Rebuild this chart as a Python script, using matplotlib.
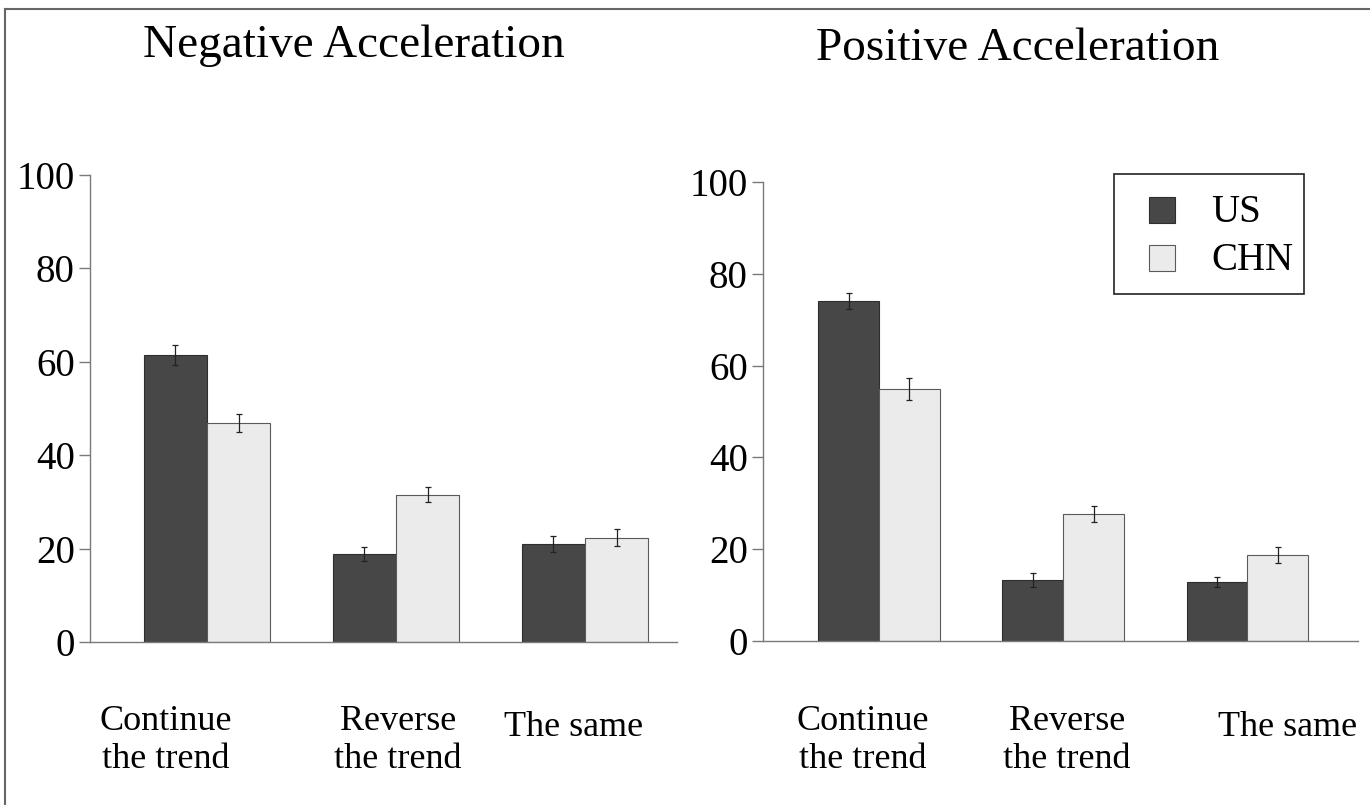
import numpy as np
import matplotlib
matplotlib.use("Agg")
import matplotlib.pyplot as plt
from matplotlib.lines import Line2D
from matplotlib.patches import Rectangle
from matplotlib.transforms import blended_transform_factory

plt.rcParams['font.family'] = ['Liberation Serif', 'DejaVu Serif']

# response categories and group means (percent) with error bars
categories = ["Continue\nthe trend", "Reverse\nthe trend", "The same"]
groups = ["US", "CHN"]

neg_us = [61.5, 18.8, 21.0]
neg_chn = [46.9, 31.5, 22.3]
neg_us_err = [2.1, 1.5, 1.7]
neg_chn_err = [1.9, 1.6, 1.8]

pos_us = [74.1, 13.3, 12.9]
pos_chn = [54.9, 27.7, 18.7]
pos_us_err = [1.7, 1.6, 1.1]
pos_chn_err = [2.4, 1.7, 1.8]

W, H = 1370, 805
fig = plt.figure(figsize=(W / 100, H / 100), dpi=100)

us_color = "#474747"
chn_color = "#ebebeb"
us_edge = "#2e2e2e"
chn_edge = "#5a5a5a"
axis_color = "#7a7a7a"


def px_axes(x0, x1, y0, y100):
    return fig.add_axes([x0 / W, 1 - y0 / H, (x1 - x0) / W, (y0 - y100) / H])


def draw_panel(ax, us, chn, us_err, chn_err, xlim, label_x, bar_w):
    x = np.arange(len(categories))
    ax.bar(x - bar_w / 2, us, bar_w, color=us_color, edgecolor=us_edge, linewidth=0.8)
    ax.bar(x + bar_w / 2, chn, bar_w, color=chn_color, edgecolor=chn_edge, linewidth=0.8)
    ax.errorbar(x - bar_w / 2, us, yerr=us_err, fmt="none", ecolor="#222222",
                elinewidth=0.9, capsize=2, capthick=0.9)
    ax.errorbar(x + bar_w / 2, chn, yerr=chn_err, fmt="none", ecolor="#222222",
                elinewidth=0.9, capsize=2, capthick=0.9)
    ax.set_xlim(*xlim)
    ax.set_ylim(0, 100)
    ax.set_yticks([0, 20, 40, 60, 80, 100])
    ax.tick_params(axis="y", direction="out", length=8, width=1, color=axis_color,
                   labelsize=28, pad=3)
    ax.set_xticks([])
    for s in ["top", "right"]:
        ax.spines[s].set_visible(False)
    for s in ["left", "bottom"]:
        ax.spines[s].set_color(axis_color)
        ax.spines[s].set_linewidth(1.0)

    trans = blended_transform_factory(ax.transData, fig.transFigure)
    for cx, lab in zip(label_x, categories):
        yc = 1 - 740 / H if "\n" in lab else 1 - 727 / H
        ax.text(cx, yc, lab, transform=trans, ha="center", va="center",
                fontsize=26, linespacing=1.2)


ax1 = px_axes(90, 677, 642, 175)
draw_panel(ax1, neg_us, neg_chn, neg_us_err, neg_chn_err,
           (-0.619, 2.487), [-0.22, 1.01, 1.94], 0.335)

ax2 = px_axes(763, 1358, 641, 182)
draw_panel(ax2, pos_us, pos_chn, pos_us_err, pos_chn_err,
           (-0.63, 2.60), [-0.09, 1.02, 2.22], 0.33)

# panel titles
fig.text(354 / W, 1 - 46 / H, "Negative Acceleration", ha="center", va="center", fontsize=34)
fig.text(1018 / W, 1 - 49 / H, "Positive Acceleration", ha="center", va="center", fontsize=34)


# legend box, laid out in pixel units
def fx(px):
    return px / W


def fy(py):
    return 1 - py / H


fig.add_artist(Rectangle((fx(1114), fy(294)), fx(1304) - fx(1114), fy(174) - fy(294),
                         transform=fig.transFigure, facecolor="white",
                         edgecolor="#222222", linewidth=1.2))
for i, (name, fc, ec) in enumerate(zip(groups, [us_color, chn_color], [us_edge, chn_edge])):
    yc = 210 + 48 * i
    fig.add_artist(Rectangle((fx(1149), fy(yc + 13)), 26 / W, 26 / H,
                             transform=fig.transFigure, facecolor=fc,
                             edgecolor=ec, linewidth=0.8))
    fig.text(fx(1211), fy(yc + 2), name, ha="left", va="center", fontsize=28)

# outer border lines
fig.add_artist(Line2D([5 / W, 5 / W], [0, 1 - 9 / H], transform=fig.transFigure,
                      color="#666666", linewidth=1.5))
fig.add_artist(Line2D([5 / W, 1], [1 - 9 / H, 1 - 9 / H], transform=fig.transFigure,
                      color="#666666", linewidth=1.5))

fig.savefig("out.png", dpi=100)
